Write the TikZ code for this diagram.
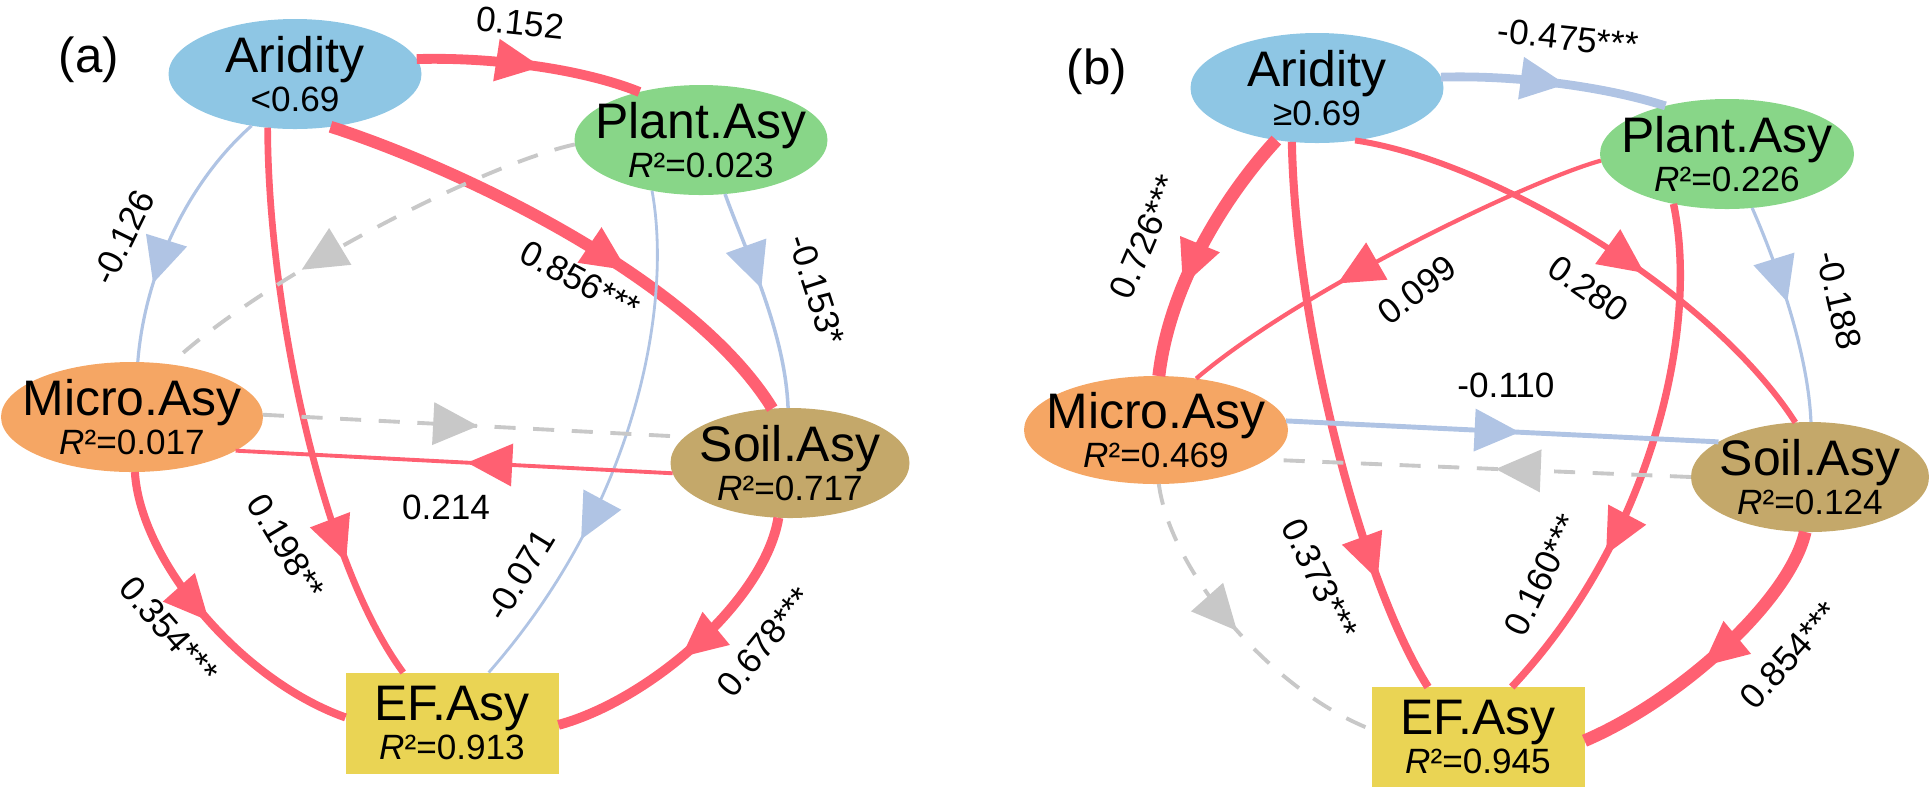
\documentclass[tikz,border=0pt]{standalone}
\usepackage{fontspec}
\setmainfont{Liberation Sans}
\usetikzlibrary{arrows.meta, shapes.geometric, decorations.markings}
\definecolor{posc}{RGB}{255,96,114}
\definecolor{negc}{RGB}{176,196,228}
\definecolor{nsc}{RGB}{200,200,200}
\definecolor{aric}{RGB}{142,198,228}
\definecolor{plac}{RGB}{136,214,136}
\definecolor{micc}{RGB}{245,166,100}
\definecolor{soic}{RGB}{196,168,106}
\definecolor{efc}{RGB}{234,212,84}
\newcommand{\nodetitle}[1]{{\fontsize{14.2}{11.1}\selectfont #1}}
\tikzset{
  varnode/.style={ellipse, fill=#1, inner sep=0pt, outer sep=0pt, minimum height=1.1cm},
  efbox/.style={rectangle, fill=efc, inner sep=0pt, outer sep=0pt, minimum width=2.13cm,
                minimum height=1.01cm, align=center, font=\fontsize{10}{11.1}\selectfont},
  vartext/.style={align=center, inner sep=0pt, font=\fontsize{10}{11.1}\selectfont},
  coef/.style={inner sep=0pt, font=\fontsize{10}{12}\selectfont},
  paneltag/.style={inner sep=0pt, font=\fontsize{14}{16}\selectfont},
  poseff/.style={draw=posc, line width=#1},
  negeff/.style={draw=negc, line width=#1},
  nseff/.style={draw=nsc, line width=1.1pt, dash pattern=on 6pt off 5pt},
  midarrow/.style={postaction={decorate, decoration={markings,
      mark=at position #1 with {\arrow{Triangle[length=4.5mm, width=4.3mm, line width=0pt]}}}}},
}

\begin{document}
\begin{tikzpicture}[x=0.1mm, y=-0.1mm]
  \useasboundingbox (0,0) rectangle (1929,795);

  % panel (a)
  \node[paneltag] (tagA) at (89,60) {(a)};
  \node[varnode=aric, minimum width=2.53cm] (aridA) at (295,74) {};
  \node[vartext] (aridAt) at (aridA) {\nodetitle{Aridity}\\<0.69};
  \node[varnode=plac, minimum width=2.53cm] (plantA) at (701,140) {};
  \node[vartext] (plantAt) at (plantA) {\nodetitle{Plant.Asy}\\\textit{R}²=0.023};
  \node[varnode=micc, minimum width=2.62cm] (microA) at (132,417) {};
  \node[vartext] (microAt) at (microA) {\nodetitle{Micro.Asy}\\\textit{R}²=0.017};
  \node[varnode=soic, minimum width=2.39cm] (soilA) at (790,463) {};
  \node[vartext] (soilAt) at (soilA) {\nodetitle{Soil.Asy}\\\textit{R}²=0.717};
  \node[efbox] (efA) at (452,723) {\nodetitle{EF.Asy}\\\textit{R}²=0.913};

  % paths (a)
  \draw[poseff=2.8pt, midarrow=0.55] (aridA.7) .. controls (490,57) and (580,68) .. (plantA.142);
  \draw[negeff=0.9pt, midarrow=0.70] (aridA.230) .. controls (190,180) and (145,270) .. (microA.84);
  \draw[poseff=1.9pt, midarrow=0.78] (aridA.243) .. controls (268,300) and (320,560) .. (efA.134);
  \draw[poseff=3.4pt, midarrow=0.62] (aridA.304) .. controls (450,165) and (690,275) .. (soilA.108);
  \draw[nseff, midarrow=0.65] (plantA.182) .. controls (480,165) and (260,280) .. (microA.54);
  \draw[negeff=1pt, midarrow=0.45] (plantA.294) .. controls (745,250) and (785,330) .. (soilA.92);
  \draw[negeff=0.8pt, midarrow=0.69] (plantA.226) .. controls (672,300) and (640,500) .. (efA.54);
  \draw[nseff, midarrow=0.51] (microA.1) -- (soilA.166);
  \draw[poseff=1.1pt, midarrow=0.47] (soilA.185) -- (microA.342);
  \draw[poseff=2.3pt, midarrow=0.5] (microA.273) .. controls (140,560) and (240,680) .. (efA.177);
  \draw[poseff=2.8pt, midarrow=0.55] (soilA.258) .. controls (765,600) and (650,700) .. (efA.359);

  \node[coef, rotate=-6] (cAP) at (520,23) {0.152};
  \node[coef, rotate=64] (cAM) at (123,237) {-0.126};
  \node[coef, rotate=-59] (cAE) at (286,547) {0.198**};
  \node[coef, rotate=-28] (cAS) at (580,280) {0.856***};
  \node[coef, rotate=-72] (cPS) at (817,290) {-0.153*};
  \node[coef, rotate=58.5] (cPE) at (520,575) {-0.071};
  \node[coef] (cSM) at (446,507) {0.214};
  \node[coef, rotate=-49] (cME) at (169,630) {0.354***};
  \node[coef, rotate=51] (cSE) at (765,642) {0.678***};

  % panel (b)
  \node[paneltag] (tagB) at (1097,72) {(b)};
  \node[varnode=aric, minimum width=2.53cm] (aridB) at (1317,88) {};
  \node[vartext] (aridBt) at (aridB) {\nodetitle{Aridity}\\≥0.69};
  \node[varnode=plac, minimum width=2.54cm] (plantB) at (1727,154) {};
  \node[vartext] (plantBt) at (plantB) {\nodetitle{Plant.Asy}\\\textit{R}²=0.226};
  \node[varnode=micc, minimum width=2.64cm, minimum height=1.08cm] (microB) at (1156,430) {};
  \node[vartext] (microBt) at (microB) {\nodetitle{Micro.Asy}\\\textit{R}²=0.469};
  \node[varnode=soic, minimum width=2.38cm] (soilB) at (1810,477) {};
  \node[vartext] (soilBt) at (soilB) {\nodetitle{Soil.Asy}\\\textit{R}²=0.124};
  \node[efbox, minimum height=1cm] (efB) at (1478,737) {\nodetitle{EF.Asy}\\\textit{R}²=0.945};

  % paths (b)
  \draw[negeff=2.5pt, midarrow=0.55] (aridB.5) .. controls (1510,75) and (1600,85) .. (plantB.142);
  \draw[poseff=3.7pt, midarrow=0.65] (aridB.232) .. controls (1230,190) and (1170,280) .. (microB.87);
  \draw[poseff=2.3pt, midarrow=0.79] (aridB.245) .. controls (1295,320) and (1360,580) .. (efB.135);
  \draw[poseff=1.7pt, midarrow=0.6] (aridB.306) .. controls (1490,160) and (1710,290) .. (soilB.105);
  \draw[poseff=1.2pt, midarrow=0.63] (plantB.183) .. controls (1530,180) and (1300,290) .. (microB.52);
  \draw[poseff=2.1pt, midarrow=0.69] (plantB.223) .. controls (1700,330) and (1650,540) .. (efB.56);
  \draw[negeff=0.9pt, midarrow=0.45] (plantB.295) .. controls (1775,260) and (1808,350) .. (soilB.89);
  \draw[negeff=1.4pt, midarrow=0.54] (microB.4) -- (soilB.159);
  \draw[nseff, midarrow=0.46] (soilB.180) -- (microB.345);
  \draw[nseff, midarrow=0.5] (microB.273) .. controls (1170,570) and (1270,690) .. (efB.176);
  \draw[poseff=3.6pt, midarrow=0.55] (soilB.265) .. controls (1790,600) and (1680,700) .. (efB.358);

  \node[coef, rotate=-6] (dAP) at (1568,38) {-0.475***};
  \node[coef, rotate=67] (dAM) at (1145,237) {0.726***};
  \node[coef, rotate=-64] (dAE) at (1320,579) {0.373***};
  \node[coef, rotate=-35] (dAS) at (1588,289) {0.280};
  \node[coef, rotate=37] (dPM) at (1417,290) {0.099};
  \node[coef, rotate=64] (dPE) at (1542,575) {0.160***};
  \node[coef, rotate=-77] (dPS) at (1839,300) {-0.188};
  \node[coef] (dMS) at (1506,385) {-0.110};
  \node[coef, rotate=48] (dSE) at (1790,655) {0.854***};
\end{tikzpicture}
\end{document}
